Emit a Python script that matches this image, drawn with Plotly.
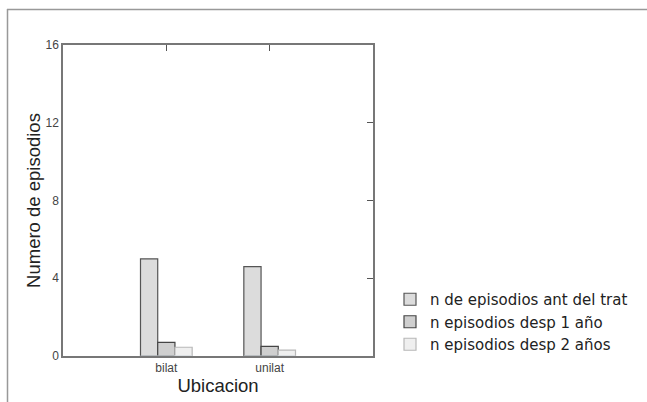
import plotly.graph_objects as go

categories = ["bilat", "unilat"]
series_names = ["n de episodios ant del trat", "n episodios desp 1 año", "n episodios desp 2 años"]
ant_trat = [5.0, 4.6]
desp_1 = [0.7, 0.5]
desp_2 = [0.45, 0.3]
y_ticks = [0, 4, 8, 12, 16]

fills = ["#dcdcdc", "#cfcfcf", "#efefef"]
lines = ["#555555", "#454545", "#b8b8b8"]

fig = go.Figure()
for name, vals, fc, lc in zip(series_names, [ant_trat, desp_1, desp_2], fills, lines):
    fig.add_trace(go.Bar(x=categories, y=vals, name=name,
                         marker=dict(color=fc, line=dict(color=lc, width=1.2))))

# invisible trace to carry the mirrored top/right axes
fig.add_trace(go.Bar(x=categories, y=[0, 0], xaxis="x2", yaxis="y2",
                     showlegend=False, hoverinfo="skip", marker=dict(color="rgba(0,0,0,0)")))

W, H = 647, 402
L, R, T, B = 63, 373, 45, 356

def px(x):
    return (x - L) / (R - L)

def py(y):
    return (B - y) / (B - T)

fig.update_layout(
    width=W, height=H,
    margin=dict(l=L, r=W - R, t=T, b=H - B, autoexpand=False),
    paper_bgcolor="white", plot_bgcolor="white",
    font=dict(family="Liberation Sans, Arial, sans-serif", color="#222"),
    barmode="group", bargap=0.5, bargroupgap=0,
    showlegend=True,
    legend=dict(x=px(390), y=py(283), xanchor="left", yanchor="top",
                font=dict(size=15, color="#222", family="DejaVu Sans, sans-serif"),
                bgcolor="rgba(0,0,0,0)", tracegroupgap=0, itemwidth=30),
    xaxis=dict(type="category", categoryarray=categories, range=[-1, 2], automargin=True,
               showline=True, linecolor="#777", linewidth=1.5,
               ticks="", tickfont=dict(size=12, color="#444"),
               title=dict(text="Ubicacion", font=dict(size=18.5, color="#222"), standoff=3),
               showgrid=False, zeroline=False),
    yaxis=dict(range=[0, 16], tickvals=y_ticks, automargin=True,
               showline=True, linecolor="#777", linewidth=1.5,
               ticks="", tickfont=dict(size=12, color="#444"),
               title=dict(text="Numero de episodios", font=dict(size=18.5, color="#222"), standoff=0),
               showgrid=False, zeroline=False),
    xaxis2=dict(type="category", categoryarray=categories, range=[-1, 2], overlaying="x", side="top",
                automargin=False,
                showline=True, linecolor="#777", linewidth=1.5, ticks="inside", ticklen=6,
                tickcolor="#555", showticklabels=False, showgrid=False, zeroline=False),
    yaxis2=dict(range=[0, 16], tickvals=y_ticks, overlaying="y", side="right", automargin=False,
                showline=True, linecolor="#777", linewidth=1.5, ticks="inside", ticklen=6,
                tickcolor="#555", showticklabels=False, showgrid=False, zeroline=False),
    shapes=[
        dict(type="line", xref="paper", yref="paper", x0=px(7), x1=px(647), y0=py(9.5), y1=py(9.5),
             line=dict(color="#999", width=1.5)),
        dict(type="line", xref="paper", yref="paper", x0=px(7.5), x1=px(7.5), y0=py(9), y1=py(402),
             line=dict(color="#999", width=1.5)),
    ],
)

fig.write_html("out.html", config={"displayModeBar": False},
               post_script="document.body.style.margin='0';document.body.style.overflow='hidden';")
